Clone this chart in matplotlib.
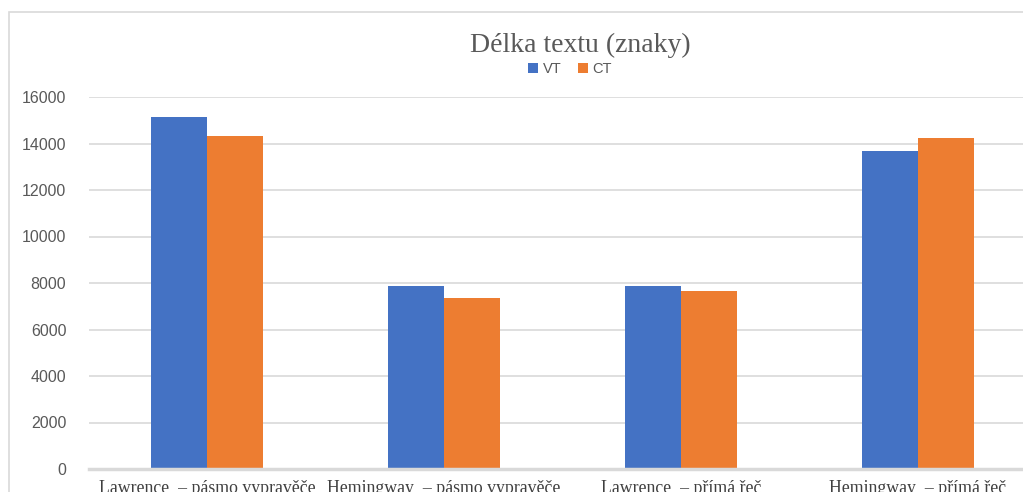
import numpy as np
import matplotlib
matplotlib.use("Agg")
import matplotlib.pyplot as plt
from matplotlib.patches import Rectangle

# ---- data ----
categories = [
    "Lawrence  – pásmo vypravěče",
    "Hemingway  – pásmo vypravěče",
    "Lawrence  – přímá řeč",
    "Hemingway  – přímá řeč",
]
vt_values = [15130, 7880, 7870, 13680]
ct_values = [14330, 7360, 7660, 14240]
y_ticks = [0, 2000, 4000, 6000, 8000, 10000, 12000, 14000, 16000]

BLUE = "#4472C4"
ORANGE = "#ED7D31"
GRID = "#D9D9D9"
TXT = "#595959"

W, H = 1023, 492
fig = plt.figure(figsize=(W / 100, H / 100), dpi=100)

# chart-area border (the original chart is cropped on the right and bottom)
fig.patches.append(Rectangle((9 / W, -0.1), 1.2, (H - 12) / H + 0.1,
                             transform=fig.transFigure, fill=False,
                             edgecolor=GRID, linewidth=1.2))

# plot area runs past the right edge of the image, like the screenshot
ax = fig.add_axes([88.5 / W, (H - 469) / H, 948 / W, 372 / H])

x = np.arange(len(categories))
bw = 0.238
ax.bar(x - bw / 2, vt_values, bw, color=BLUE, label="VT", zorder=3)
ax.bar(x + bw / 2, ct_values, bw, color=ORANGE, label="CT", zorder=3)

ax.set_xlim(-0.5, len(categories) - 0.5)
ax.set_ylim(0, 16000)
ax.set_yticks(y_ticks)
ax.set_yticklabels([str(v) for v in y_ticks], fontsize=11.5,
                   family="Liberation Sans", color=TXT)
ax.set_xticks(x)
ax.set_xticklabels(categories, fontsize=12.8, family="Liberation Serif",
                   color="#404040")
ax.tick_params(axis="y", length=0, pad=16)
ax.tick_params(axis="x", length=0, pad=8)

ax.grid(axis="y", color=GRID, linewidth=1.2, zorder=0)
for s in ["top", "right", "left"]:
    ax.spines[s].set_visible(False)
ax.spines["bottom"].set_color(GRID)
ax.spines["bottom"].set_linewidth(2.5)
ax.spines["bottom"].set_zorder(4)

fig.text(580 / W, 1 - 45 / H, "Délka textu (znaky)", ha="center", va="center",
         fontsize=20, family="Liberation Serif", color=TXT)

handles, labels = ax.get_legend_handles_labels()
fig.legend(handles, labels, loc="center", bbox_to_anchor=(570 / W, 1 - 69 / H),
           ncol=2, frameon=False, handlelength=0.7,
           handleheight=0.7, handletextpad=0.3, columnspacing=1.1,
           prop={"family": "Liberation Sans", "size": 10.5}, labelcolor=TXT)

fig.savefig("out.png", dpi=100)
